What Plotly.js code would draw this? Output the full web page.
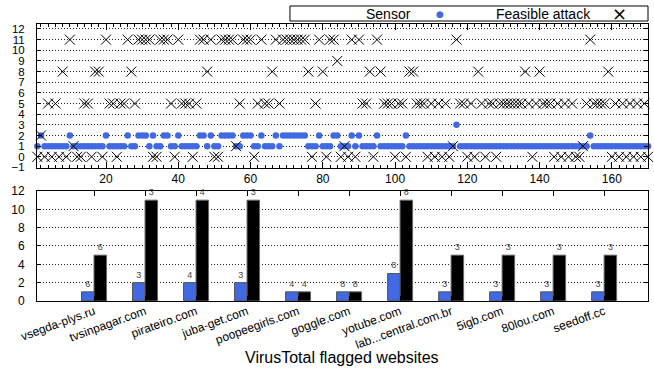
<!DOCTYPE html>
<html><head><meta charset="utf-8">
<script src="https://cdn.plot.ly/plotly-3.0.1.min.js"></script>
<style>html,body{margin:0;padding:0;background:#fff}#chart{width:654px;height:370px}</style>
</head><body><div id="chart"></div>
<script>
// ---- Top panel: per-website values (index 1..170) ----
const sensorValues = [
  1,2,1,1,1,1,1,1,1,2,
  1,1,1,1,1,1,1,1,1,2,
  1,1,1,1,1,2,1,1,2,2,
  2,1,2,1,1,2,2,1,1,2,
  1,1,1,1,1,2,2,1,2,1,
  1,2,2,2,2,1,1,2,2,2,
  1,1,2,1,1,1,2,1,2,2,
  2,2,2,2,2,1,1,1,2,1,
  1,1,2,2,1,1,1,2,1,2,
  1,1,1,1,2,1,1,1,1,1,
  1,1,2,1,1,1,1,1,1,1,
  1,1,1,1,1,1,3,1,1,1,
  1,1,1,1,1,1,1,1,1,1,
  1,1,1,1,1,1,1,1,1,1,
  1,1,1,1,1,1,1,1,1,1,
  1,1,1,2,1,1,1,1,1,1,
  1,1,1,1,1,1,1,1,1,1
];
const attackValues = [
  0,2,0,5,0,5,0,8,0,11,
  1,0,0,5,5,0,8,8,0,11,
  5,5,0,5,5,11,8,5,11,11,
  11,11,0,0,11,11,11,5,0,11,
  5,5,5,0,5,11,11,8,11,0,
  0,11,11,11,11,1,5,11,11,11,
  0,5,11,5,5,8,11,5,11,11,
  11,11,11,11,11,8,0,5,11,8,
  0,11,11,9,0,1,0,11,0,11,
  5,5,8,0,11,8,5,5,5,0,
  5,5,0,8,8,5,5,5,0,5,
  0,5,0,5,0,1,11,5,5,0,
  5,0,8,5,0,5,5,0,5,5,
  5,5,5,5,5,8,5,0,5,8,
  5,5,5,0,5,0,5,0,5,0,
  0,1,5,11,5,5,5,5,8,0,
  5,0,5,0,5,0,5,0,5,0
];
const websiteIds = sensorValues.map((_, i) => i + 1);

// ---- Bottom panel: VirusTotal flagged websites ----
const sites = ['vsegda-plys.ru','tvsinpagar.com','pirateiro.com','juba-get.com','poopeegirls.com',
  'goggle.com','yotube.com','lab...central.com.br','5igb.com','80lou.com','seedoff.cc'];
const sensorCounts = [1,2,2,2,1,1,3,1,1,1,1];
const attackCounts = [5,11,11,11,1,1,11,5,5,5,5];
const sensorLabels = [6,3,4,3,4,8,8,3,3,3,3];
const attackLabels = [6,3,4,3,4,8,8,3,3,3,3];

const seriesNames = ['Sensor', 'Feasible attack'];
const bottomTitle = 'VirusTotal flagged websites';

const FONT = '"Liberation Sans", Arial, Helvetica, sans-serif';
const BLUE = '#4169e1';
const GRID = '1px,2px';

const traces = [
  {type:'scatter', mode:'markers', name:seriesNames[0], x:websiteIds, y:sensorValues,
   xaxis:'x', yaxis:'y', cliponaxis:false, showlegend:false,
   marker:{color:BLUE, size:6.5, symbol:'circle', line:{width:0}}},
  {type:'scatter', mode:'markers', name:seriesNames[1], x:websiteIds, y:attackValues,
   xaxis:'x', yaxis:'y', cliponaxis:false, showlegend:false,
   marker:{color:'black', size:10, symbol:'x-thin-open', line:{width:1, color:'black'}}},
  {type:'bar', name:seriesNames[0], x:sites, y:sensorCounts, xaxis:'x2', yaxis:'y2', showlegend:false,
   marker:{color:BLUE, line:{color:'#555', width:1}},
   text:sensorLabels.map(String), textposition:'outside', cliponaxis:false,
   textfont:{size:9, color:'#444', family:FONT}},
  {type:'bar', name:seriesNames[1], x:sites, y:attackCounts, xaxis:'x2', yaxis:'y2', showlegend:false,
   marker:{color:'black', line:{color:'#666', width:1}},
   text:attackLabels.map(String), textposition:'outside', cliponaxis:false,
   textfont:{size:9, color:'#444', family:FONT}}
];

// key box drawn in gnuplot style: text first, then the symbol
const keyY = 0.9635;
const annotations = [
  {xref:'paper', yref:'paper', x:0.6154, y:keyY, xanchor:'right', yanchor:'middle',
   text:seriesNames[0], showarrow:false, font:{size:14}},
  {xref:'paper', yref:'paper', x:0.6596, y:keyY, xanchor:'center', yanchor:'middle',
   text:'●', showarrow:false, font:{size:9, color:BLUE, family:'DejaVu Sans'}},
  {xref:'paper', yref:'paper', x:0.910, y:keyY, xanchor:'right', yanchor:'middle',
   text:seriesNames[1], showarrow:false, font:{size:14}},
  {xref:'paper', yref:'paper', x:0.954, y:keyY, xanchor:'center', yanchor:'middle',
   text:'×', showarrow:false, font:{size:18, color:'black', family:'DejaVu Sans'}},
  {xref:'paper', yref:'paper', x:0.499, y:0.033, xanchor:'center', yanchor:'middle',
   text:bottomTitle, showarrow:false, font:{size:16}}
];
const shapes = [
  {type:'rect', xref:'paper', yref:'paper', x0:0.414, x1:1.0, y0:0.9432, y1:0.9838,
   line:{color:'black', width:1}, fillcolor:'white', layer:'above'}
];

const layout = {
  width:654, height:370,
  margin:{l:37, r:6, t:0, b:0},
  paper_bgcolor:'white', plot_bgcolor:'white',
  font:{family:FONT, size:12, color:'black'},
  showlegend:false,
  annotations, shapes,
  barmode:'group', bargap:0.51, bargroupgap:0,
  xaxis:{domain:[0,1], anchor:'y', range:[0.9,170], tick0:0, dtick:20,
    ticks:'inside', ticklen:6, tickcolor:'black',
    minor:{dtick:2, ticks:'inside', ticklen:3, tickcolor:'black', showgrid:false},
    showline:true, linecolor:'black', linewidth:1, mirror:'ticks',
    showgrid:false, zeroline:false, tickfont:{size:12}, ticklabelstandoff:-1},
  yaxis:{domain:[0.5451,0.9343], anchor:'x', range:[-1.08,12.44], tick0:0, dtick:1,
    ticks:'inside', ticklen:4, tickcolor:'black', ticklabelstandoff:9,
    showline:true, linecolor:'black', linewidth:1, mirror:'ticks',
    showgrid:true, gridcolor:'#222', griddash:GRID, gridwidth:1, zeroline:false,
    tickfont:{size:11.5}},
  xaxis2:{domain:[0,1], anchor:'y2', type:'category', range:[-1.118,10.86],
    tickangle:-20, ticks:'inside', ticklen:5, tickcolor:'black',
    showline:true, linecolor:'black', linewidth:1, mirror:'ticks',
    showgrid:false, zeroline:false, tickfont:{size:12}, ticklabelstandoff:-2},
  yaxis2:{domain:[0.1865,0.4838], anchor:'x2', range:[0,12], tick0:0, dtick:2,
    ticks:'inside', ticklen:4, tickcolor:'black', ticklabelstandoff:9,
    showline:true, linecolor:'black', linewidth:1, mirror:'ticks',
    showgrid:true, gridcolor:'#222', griddash:GRID, gridwidth:1, zeroline:false,
    tickfont:{size:12}}
};

Plotly.newPlot('chart', traces, layout, {displayModeBar:false, staticPlot:true});
</script>
</body></html>
